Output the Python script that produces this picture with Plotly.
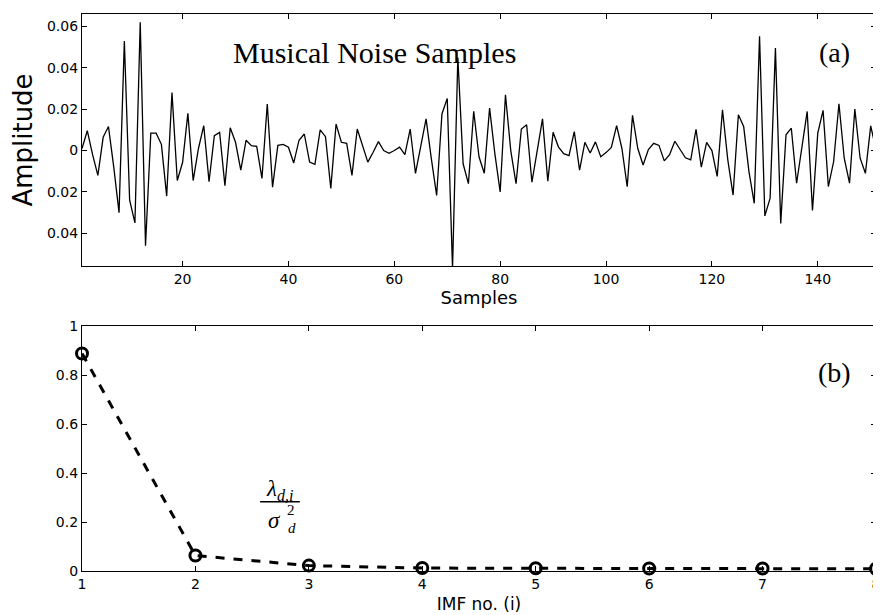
import plotly.graph_objects as go
from plotly.subplots import make_subplots

# ---- data ----
sample_index = list(range(1, 152))
amplitude = [
    0.001, 0.0096, -0.002, -0.012, 0.0064, 0.0116, -0.008, -0.030, 0.053, -0.024,
    -0.035, 0.062, -0.046, 0.0084, 0.0084, 0.003, -0.022, 0.028, -0.0145, -0.0058,
    0.018, -0.0145, 0.001, 0.012, -0.015, 0.0072, 0.0088, -0.017, 0.011, 0.004,
    -0.0095, 0.005, 0.0024, 0.002, -0.0135, 0.0225, -0.0177, 0.0025, 0.003, 0.0016,
    -0.006, 0.005, 0.008, -0.0056, -0.0067, 0.010, 0.0067, -0.0183, 0.0128, 0.004,
    0.0035, -0.012, 0.0104, 0.0029, -0.0056, -0.0008, 0.0043, 0.0, -0.0013, 0.0,
    0.0016, -0.002, 0.0104, -0.011, 0.0016, 0.0153, -0.004, -0.0217, 0.0177, 0.0252,
    -0.057, 0.045, -0.0064, -0.016, 0.019, -0.003, -0.011, 0.0205, -0.0016, -0.020,
    0.027, 0.0, -0.016, 0.0104, 0.0125, -0.0153, 0.0, 0.0153, -0.0148, 0.0088,
    0.0018, -0.0015, -0.0025, 0.0092, -0.0095, 0.004, -0.0012, 0.0042, -0.003, -0.001,
    0.0015, 0.012, 0.001, -0.0175, 0.017, 0.001, -0.007, 0.0005, 0.0035, 0.0025,
    -0.005, -0.002, 0.0045, 0.0005, -0.0035, -0.0045, 0.0103, -0.008, 0.004, 0.0,
    -0.0125, 0.0197, -0.0045, -0.0215, 0.0173, 0.0116, -0.0102, -0.0255, 0.0552, -0.0316,
    -0.023, 0.0495, -0.0352, 0.0076, 0.0108, -0.0158, 0.0011, 0.0189, -0.029, 0.0084,
    0.0194, -0.0174, -0.0053, 0.0226, -0.0037, -0.0158, 0.02, -0.0037, -0.011, 0.0119,
    0.0003,
]

imf_no = [1, 2, 3, 4, 5, 6, 7, 8]
eig_ratio = [0.888, 0.063, 0.022, 0.012, 0.011, 0.010, 0.010, 0.009]

top_xticks = [20, 40, 60, 80, 100, 120, 140]
top_yticks = [-0.04, -0.02, 0, 0.02, 0.04, 0.06]
top_yticktext = ["0.04", "0.02", "0", "0.02", "0.04", "0.06"]
bot_yticks = [0, 0.2, 0.4, 0.6, 0.8, 1]
bot_yticktext = ["0", "0.2", "0.4", "0.6", "0.8", "1"]

# ---- figure ----
fig = make_subplots(rows=2, cols=1, vertical_spacing=0.1)

fig.add_trace(go.Scatter(x=sample_index, y=amplitude, mode="lines",
                         line=dict(color="black", width=1.3),
                         showlegend=False), row=1, col=1)

fig.add_trace(go.Scatter(x=imf_no, y=eig_ratio, mode="lines+markers",
                         line=dict(color="black", width=3, dash="dash"),
                         marker=dict(symbol="circle-open", size=11,
                                     color="black", line=dict(width=3)),
                         cliponaxis=False, showlegend=False), row=2, col=1)

sans = "DejaVu Sans, Arial, sans-serif"
tickfont = dict(family=sans, size=14, color="black")
common = dict(showline=True, linecolor="black", linewidth=1.2, mirror="ticks",
              ticks="inside", ticklen=5, tickwidth=1.2, tickcolor="black",
              showgrid=False, zeroline=False, tickfont=tickfont,
              automargin=False, ticklabeloverflow="allow")

# page has an 8px body margin; figure size/margins compensate for it
W, H = 873, 607
top_px, top_bot_px, bot_top_px, bot_bot_px = 6, 258, 318, 563
ph = bot_bot_px - top_px
fig.update_layout(
    width=W, height=H,
    margin=dict(l=74, r=5, t=top_px, b=H - bot_bot_px),
    paper_bgcolor="white", plot_bgcolor="white",
    font=dict(family=sans, color="black"),
    xaxis=dict(domain=[0, 1], range=[1, 151], tickvals=top_xticks,
               title=dict(text="Samples", font=dict(size=18), standoff=1), **common),
    yaxis=dict(domain=[(bot_bot_px - top_bot_px) / ph, 1], range=[-0.0558, 0.066],
               tickvals=top_yticks, ticktext=top_yticktext,
               title=dict(text="Amplitude", font=dict(size=26), standoff=6), **common),
    xaxis2=dict(domain=[0, 1], range=[1, 8], tickvals=imf_no,
                title=dict(text="IMF no. (i)", font=dict(size=17), standoff=7), **common),
    yaxis2=dict(domain=[0, (bot_bot_px - bot_top_px) / ph], range=[0, 1],
                tickvals=bot_yticks, ticktext=bot_yticktext, **common),
)

serif = "Liberation Serif, Times New Roman, serif"
fig.add_annotation(x=56.2, y=0.0472, xref="x", yref="y", text="Musical Noise Samples",
                   showarrow=False, font=dict(family=serif, size=30, color="black"))
fig.add_annotation(x=0.948, y=0.0475, xref="paper", yref="y", text="(a)", xanchor="center",
                   showarrow=False, font=dict(family=serif, size=28, color="black"))
fig.add_annotation(x=0.948, y=0.81, xref="paper", yref="y2", text="(b)", xanchor="center",
                   showarrow=False, font=dict(family=serif, size=28, color="black"))

# fraction lambda_{d,i} / sigma_d^2
fig.add_annotation(x=2.745, y=0.33, xref="x2", yref="y2",
                   text="<i>λ</i><sub><i>d,i</i></sub>", showarrow=False,
                   font=dict(family=serif, size=23, color="black"))
fig.add_shape(type="line", x0=2.57, x1=2.92, y0=0.283, y1=0.283,
              xref="x2", yref="y2", line=dict(color="black", width=1.5))
fig.add_annotation(x=2.70, y=0.205, xref="x2", yref="y2",
                   text="<i>σ</i>", showarrow=False,
                   font=dict(family=serif, size=23, color="black"))
fig.add_annotation(x=2.84, y=0.248, xref="x2", yref="y2",
                   text="2", showarrow=False,
                   font=dict(family=serif, size=15, color="black"))
fig.add_annotation(x=2.85, y=0.175, xref="x2", yref="y2",
                   text="<i>d</i>", showarrow=False,
                   font=dict(family=serif, size=15, color="black"))

fig.write_html("out.html")
